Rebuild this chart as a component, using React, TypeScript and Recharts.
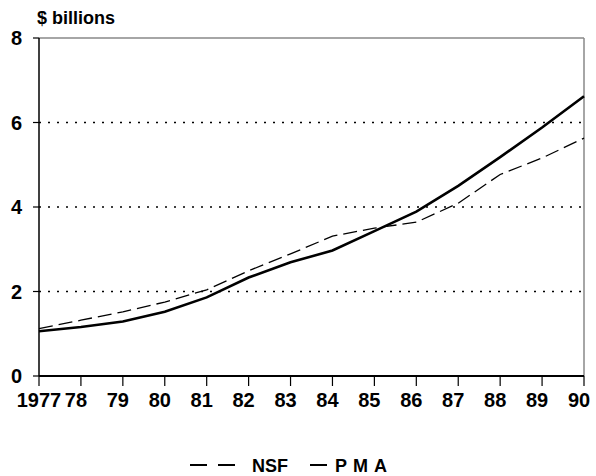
import React from "react";
import { LineChart, Line, XAxis, YAxis, ReferenceLine } from "recharts";

const years = ["1977", "78", "79", "80", "81", "82", "83", "84", "85", "86", "87", "88", "89", "90"];
const pmaValues = [1.06, 1.16, 1.29, 1.52, 1.86, 2.33, 2.69, 2.97, 3.43, 3.89, 4.5, 5.18, 5.88, 6.62];
const nsfValues = [1.12, 1.32, 1.52, 1.75, 2.04, 2.49, 2.89, 3.31, 3.5, 3.64, 4.09, 4.77, 5.16, 5.63];
const yTicks = [0, 2, 4, 6, 8];
const gridValues = [2, 4, 6];

const data = years.map((year, i) => ({ year, PMA: pmaValues[i], NSF: nsfValues[i] }));

const FONT = '"Liberation Sans", Arial, sans-serif';

const XTick = (props: any) => {
  const { x, y, payload, index } = props;
  const dx = index === 0 ? 0 : -5;
  return (
    <text
      x={x + dx}
      y={y}
      dy="0.71em"
      textAnchor="middle"
      fontFamily={FONT}
      fontWeight="bold"
      fontSize={20}
      fill="#000"
    >
      {payload.value}
    </text>
  );
};

export default function App() {
  return (
    <div style={{ position: "absolute", left: 0, top: 0, width: 596, height: 476, background: "#fff" }}>
      <div
        style={{
          position: "absolute",
          left: 37,
          top: 8,
          fontFamily: FONT,
          fontWeight: "bold",
          fontSize: 18,
          color: "#000",
          lineHeight: "21px",
        }}
      >
        $ billions
      </div>
      <LineChart
        width={596}
        height={476}
        data={data}
        margin={{ top: 38, right: 12, left: 0, bottom: 38 }}
      >
        {gridValues.map((v) => (
          <ReferenceLine key={v} y={v} stroke="#000" strokeWidth={1.5} strokeDasharray="2 7" />
        ))}
        <ReferenceLine y={8} stroke="#888" strokeWidth={1.5} />
        <ReferenceLine x="90" stroke="#888" strokeWidth={1.5} />
        <XAxis
          dataKey="year"
          interval={0}
          height={62}
          tickSize={10}
          tickMargin={7}
          axisLine={{ stroke: "#000", strokeWidth: 2 }}
          tickLine={{ stroke: "#000", strokeWidth: 1.2 }}
          tick={<XTick />}
        />
        <YAxis
          domain={[0, 8]}
          ticks={yTicks}
          width={39}
          tickSize={6}
          tickMargin={11}
          axisLine={{ stroke: "#000", strokeWidth: 1.5 }}
          tickLine={{ stroke: "#000", strokeWidth: 1.2 }}
          tick={{ fontFamily: FONT, fontWeight: "bold", fontSize: 20, fill: "#000" }}
        />
        <Line
          type="linear"
          dataKey="NSF"
          stroke="#000"
          strokeWidth={1.3}
          strokeDasharray="14 6"
          dot={false}
          isAnimationActive={false}
        />
        <Line
          type="linear"
          dataKey="PMA"
          stroke="#000"
          strokeWidth={2.6}
          dot={false}
          isAnimationActive={false}
        />
      </LineChart>
      <svg
        width={596}
        height={30}
        style={{ position: "absolute", left: 0, top: 452 }}
      >
        <line x1={190} y1={13} x2={207} y2={13} stroke="#000" strokeWidth={2} />
        <line x1={218} y1={13} x2={235} y2={13} stroke="#000" strokeWidth={2} />
        <text x={252} y={20} fontFamily={FONT} fontWeight="bold" fontSize={18} fill="#000">
          NSF
        </text>
        <line x1={310} y1={13} x2={327} y2={13} stroke="#000" strokeWidth={2} />
        <text
          x={335}
          y={20}
          fontFamily={FONT}
          fontWeight="bold"
          fontSize={18}
          letterSpacing={6}
          fill="#000"
        >
          PMA
        </text>
      </svg>
    </div>
  );
}
